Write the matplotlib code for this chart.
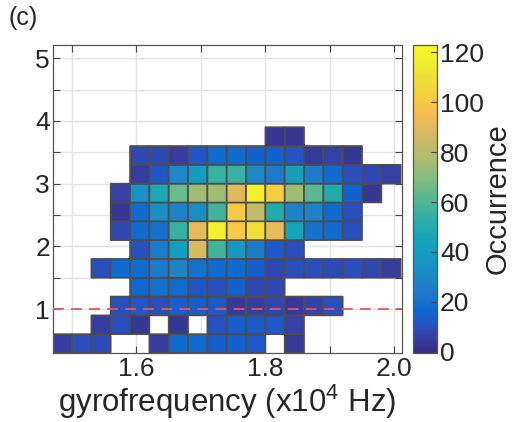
import numpy as np
import matplotlib
matplotlib.use("Agg")
import matplotlib.pyplot as plt
from matplotlib.colors import LinearSegmentedColormap

plt.rcParams['font.family'] = ['Liberation Sans', 'DejaVu Sans']
plt.rcParams['mathtext.fontset'] = 'custom'
plt.rcParams['mathtext.rm'] = 'Liberation Sans'
plt.rcParams['mathtext.it'] = 'Liberation Sans'

# ---------------- data ----------------
x_edges = [1.47, 1.50, 1.53, 1.56, 1.59, 1.62, 1.65, 1.68, 1.71, 1.74,
           1.77, 1.80, 1.83, 1.86, 1.89, 1.92, 1.95, 1.98, 2.01]
y_edges = [0.3, 0.6, 0.9, 1.2, 1.5, 1.8, 2.1, 2.4, 2.7, 3.0, 3.3, 3.6, 3.9]

# counts per bin, rows from bottom (y=0.3) to top (y=3.9); 0 = empty
row_00 = [5, 10, 9, 0, 0, 5, 18, 18, 14, 15, 13, 0, 4, 0, 0, 0, 0, 0]
row_01 = [0, 0, 5, 10, 3, 0, 3, 0, 11, 14, 13, 13, 6, 0, 0, 0, 0, 0]
row_02 = [0, 0, 0, 10, 12, 10, 14, 14, 13, 4, 5, 8, 4, 7, 10, 0, 0, 0]
row_03 = [0, 0, 0, 0, 17, 20, 18, 12, 10, 15, 8, 8, 0, 0, 0, 0, 0, 0]
row_04 = [0, 0, 10, 18, 18, 24, 28, 20, 18, 18, 14, 8, 10, 10, 9, 10, 8, 5]
row_05 = [0, 0, 0, 0, 10, 25, 42, 88, 57, 38, 25, 13, 10, 0, 0, 0, 0, 0]
row_06 = [0, 0, 0, 8, 18, 20, 55, 92, 118, 100, 110, 93, 45, 20, 18, 10, 0, 0]
row_07 = [0, 0, 0, 3, 18, 33, 28, 33, 57, 100, 82, 50, 28, 28, 18, 10, 0, 0]
row_08 = [0, 0, 0, 6, 35, 48, 65, 75, 75, 90, 118, 103, 75, 62, 50, 15, 3, 0]
row_09 = [0, 0, 0, 0, 5, 12, 30, 40, 55, 55, 30, 25, 42, 25, 18, 10, 8, 6]
row_10 = [0, 0, 0, 0, 8, 8, 5, 12, 18, 18, 15, 15, 12, 4, 6, 3, 0, 0]
row_11 = [0, 0, 0, 0, 0, 0, 0, 0, 0, 0, 0, 3, 3, 0, 0, 0, 0, 0]

ref_level = 1.0
x_ticks = [1.5, 1.6, 1.7, 1.8, 1.9, 2.0]
x_ticklabels = ['', '1.6', '', '1.8', '', '2.0']
y_ticks = [1, 1.5, 2, 2.5, 3, 3.5, 4, 4.5, 5]
y_ticklabels = ['1', '', '2', '', '3', '', '4', '', '5']
cbar_ticks = [0, 20, 40, 60, 80, 100, 120]

# ---------------- parula (slightly muted, as in the reference) ----------------
parula_anchors = [
    (0.2081, 0.1663, 0.5292), (0.2081, 0.2386, 0.6771), (0.1253, 0.3242, 0.8303),
    (0.0060, 0.4086, 0.8828), (0.0629, 0.4737, 0.8554), (0.0793, 0.5200, 0.8312),
    (0.0488, 0.5772, 0.8228), (0.0239, 0.6287, 0.8038), (0.0267, 0.6642, 0.7607),
    (0.0843, 0.6928, 0.7062), (0.1801, 0.7177, 0.6424), (0.3022, 0.7376, 0.5712),
    (0.4420, 0.7481, 0.5033), (0.5709, 0.7485, 0.4494), (0.6834, 0.7435, 0.4044),
    (0.7858, 0.7356, 0.3633), (0.8824, 0.7274, 0.3217), (0.9739, 0.7314, 0.2666),
    (0.9955, 0.7861, 0.1967), (0.9697, 0.8481, 0.1475), (0.9589, 0.8949, 0.1132),
    (0.9661, 0.9514, 0.0755), (0.9763, 0.9831, 0.0538)]
anc = np.array(parula_anchors)
lum = (0.3 * anc[:, 0] + 0.59 * anc[:, 1] + 0.11 * anc[:, 2])[:, None]
anc = 0.88 * anc + 0.12 * lum
parula = LinearSegmentedColormap.from_list('parula', anc, N=256)

# ---------------- figure ----------------
W, H = 517, 422
fig = plt.figure(figsize=(W / 100, H / 100), dpi=100)

def fr(x0, y0, x1, y1):
    return [x0 / W, 1 - y1 / H, (x1 - x0) / W, (y1 - y0) / H]

ax = fig.add_axes(fr(52.7, 45, 402, 353))
cax = fig.add_axes(fr(413.3, 45, 437.3, 353))

counts = np.array([row_00, row_01, row_02, row_03, row_04, row_05, row_06,
                   row_07, row_08, row_09, row_10, row_11], dtype=float)
masked = np.ma.masked_where(counts <= 0, counts)

ax.set_axisbelow(True)
mesh = ax.pcolor(x_edges, y_edges, masked, cmap=parula, vmin=-0.5, vmax=123,
                 edgecolor='#4d4d4d', linewidth=1.2, zorder=1)
ax.axhline(ref_level, color='#E8545C', linestyle=(0, (6, 4)), linewidth=1.3, zorder=3)

ax.set_xlim(1.47, 2.012)
ax.set_ylim(0.3, 5.21)
ax.set_xticks(x_ticks)
ax.set_xticklabels(x_ticklabels)
ax.set_yticks(y_ticks)
ax.set_yticklabels(y_ticklabels)
ax.grid(True, color='#E3E3E3', linewidth=1.0)
txtc = '#262626'
ax.tick_params(direction='in', top=True, right=True, length=5, width=0.8,
               colors='#444444', labelcolor=txtc, labelsize=19, pad=3)
ax.tick_params(axis='y', pad=2)
for s in ax.spines.values():
    s.set_color('#555555')
    s.set_linewidth(0.9)
ax.set_xlabel('gyrofrequency (x10$^{4}$ Hz)', fontsize=22.5, color=txtc, labelpad=1)

cb = fig.colorbar(mesh, cax=cax, ticks=cbar_ticks)
cb.outline.set_edgecolor('#555555')
cb.outline.set_linewidth(0.9)
cax.tick_params(direction='in', length=4, width=0.8, colors='#444444',
                labelcolor=txtc, labelsize=19, pad=2)
cb.set_label('Occurrence', fontsize=21, color=txtc, labelpad=0)

fig.text(8 / W, 1 - 6 / H, '(c)', fontsize=18, color=txtc, ha='left', va='top')

fig.savefig('out.png', dpi=100)
